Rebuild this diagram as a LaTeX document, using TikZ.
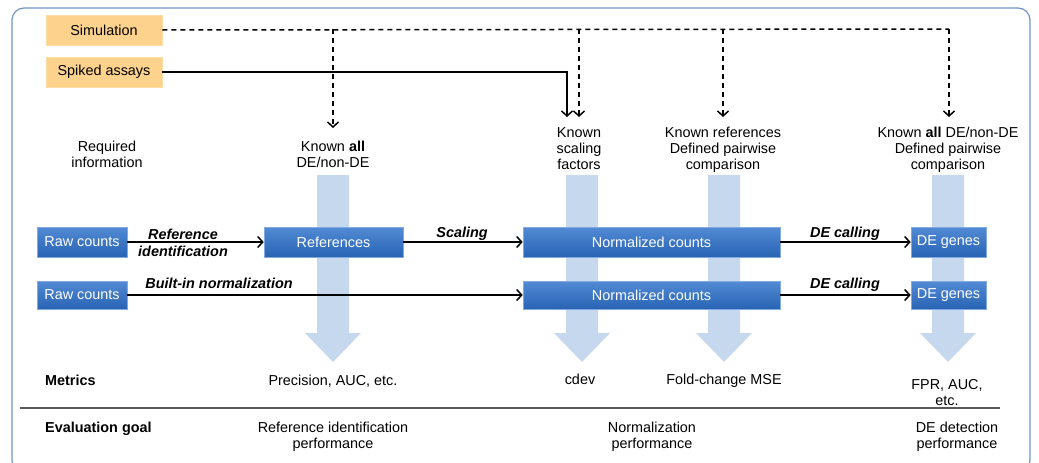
\documentclass[tikz,border=0pt]{standalone}
\usepackage{fontspec}
\setmainfont{Liberation Sans}
\usetikzlibrary{arrows.meta,calc}
\definecolor{frameblue}{RGB}{112,148,196}
\definecolor{colblue}{RGB}{198,216,237}
\definecolor{boxtop}{RGB}{82,138,212}
\definecolor{boxbot}{RGB}{40,100,180}
\definecolor{boxedge}{RGB}{130,170,225}
\definecolor{orfill}{RGB}{253,210,140}
\definecolor{oredge}{RGB}{251,220,165}
\definecolor{sepgray}{RGB}{90,90,90}
\begin{document}
\begin{tikzpicture}[x=1pt,y=-1pt,
  every node/.style={font=\fontsize{14.4}{16}\selectfont},
  bluebox/.style={draw=boxedge,line width=0.6pt,top color=boxtop,bottom color=boxbot,text=white,minimum height=30pt,inner sep=0pt},
  srcbox/.style={draw=oredge,line width=0.6pt,fill=orfill,minimum width=116pt,minimum height=30pt,inner sep=0pt},
  txt/.style={anchor=base,align=center,inner sep=0pt},
  lbl/.style={anchor=base,inner sep=0pt,font=\fontsize{14.4}{16}\selectfont\bfseries\itshape},
  flow/.style={line width=1.5pt,-{Straight Barb[length=5pt,width=11pt,line width=1.5pt]}},
  dflow/.style={flow,dash pattern=on 5pt off 4pt},
  bigarrow/.style={fill=colblue,draw=none}]
\useasboundingbox (0,0) rectangle (1039,463);
\draw[frameblue,line width=1.2pt,rounded corners=12pt] (12,8) rectangle (1030,472);

% big light-blue arrows
\foreach \cx/\top in {333/175,582/175,724/175,948/175}{
  \fill[colblue] (\cx-16,\top) -- (\cx+16,\top) -- (\cx+16,333) -- (\cx+28,333)
    -- (\cx,362) -- (\cx-28,333) -- (\cx-16,333) -- cycle;
}

% source boxes
\node[srcbox] (sim) at (104,30) {Simulation};
\node[srcbox] (spk) at (104,72) {Spiked assays};

% required information texts (base = last line)
\node[txt] (req) at (107,167) {Required\\information};
\node[txt] (k1) at (333,167) {Known \textbf{all}\\DE/non-DE};
\node[txt] (k2) at (579,169) {Known\\scaling\\factors};
\node[txt] (k3) at (723,169) {Known references\\Defined pairwise\\comparison};
\node[txt] (k4) at (948,169) {Known \textbf{all} DE/non-DE\\Defined pairwise\\comparison};

% connector end points
\coordinate (d1) at (333,29);
\coordinate (d2) at (579,29);
\coordinate (d3) at (723,29);
\coordinate (d4) at (949,29);
\coordinate (e1) at (333,128);
\coordinate (e2) at (579,117);
\coordinate (e3) at (723,117);
\coordinate (e4) at (949,117);
\coordinate (s1) at (567,72);
\coordinate (s2) at (567,117);

\draw[line width=1.5pt,dash pattern=on 5pt off 4pt] (sim.east) -- (d4);
\draw[dflow] (d1) -- (e1);
\draw[dflow] (d2) -- (e2);
\draw[dflow] (d3) -- (e3);
\draw[dflow] (d4) -- (e4);
\draw[flow] (spk.east) -- (s1) -- (s2);

% pipeline boxes
\node[bluebox,minimum width=90pt] (raw1) at (82,242) {Raw counts};
\node[bluebox,minimum width=139pt] (ref) at (333.5,242) {References};
\node[bluebox,minimum width=257pt] (norm1) at (651.5,242) {Normalized counts};
\node[bluebox,minimum width=75pt] (de1) at (948.5,242) {DE genes};
\node[bluebox,minimum width=90pt,minimum height=28pt] (raw2) at (82,295) {Raw counts};
\node[bluebox,minimum width=257pt,minimum height=28pt] (norm2) at (651.5,295) {Normalized counts};
\node[bluebox,minimum width=75pt,minimum height=28pt] (de2) at (948.5,295) {DE genes};

\draw[flow] (raw1) -- (ref);
\draw[flow] (ref) -- (norm1);
\draw[flow] (norm1) -- (de1);
\draw[flow] (raw2) -- (norm2);
\draw[flow] (norm2) -- (de2);

\node[lbl] (l1a) at (183,239) {Reference};
\node[lbl] (l1b) at (183,256) {identification};
\node[lbl] (l2) at (462,237) {Scaling};
\node[lbl] (l3) at (845,237) {DE calling};
\node[lbl] (l4) at (219,288) {Built-in normalization};
\node[lbl] (l5) at (845,288) {DE calling};

% metrics
\node[txt,anchor=base west] (met) at (45,385) {\textbf{Metrics}};
\node[txt] (m1) at (333,385) {Precision, AUC, etc.};
\node[txt] (m2) at (580,384) {cdev};
\node[txt] (m3) at (724,384) {Fold-change MSE};
\node[txt] (m4) at (947,405) {FPR, AUC,\\etc.};

\draw[sepgray,line width=1.5pt] (20,408) -- (1000,408);

\node[txt,anchor=base west] (eg) at (45,432) {\textbf{Evaluation goal}};
\node[txt] (g1) at (333,448) {Reference identification\\performance};
\node[txt] (g2) at (652,448) {Normalization\\performance};
\node[txt] (g3) at (957,448) {DE detection\\performance};
\end{tikzpicture}
\end{document}
